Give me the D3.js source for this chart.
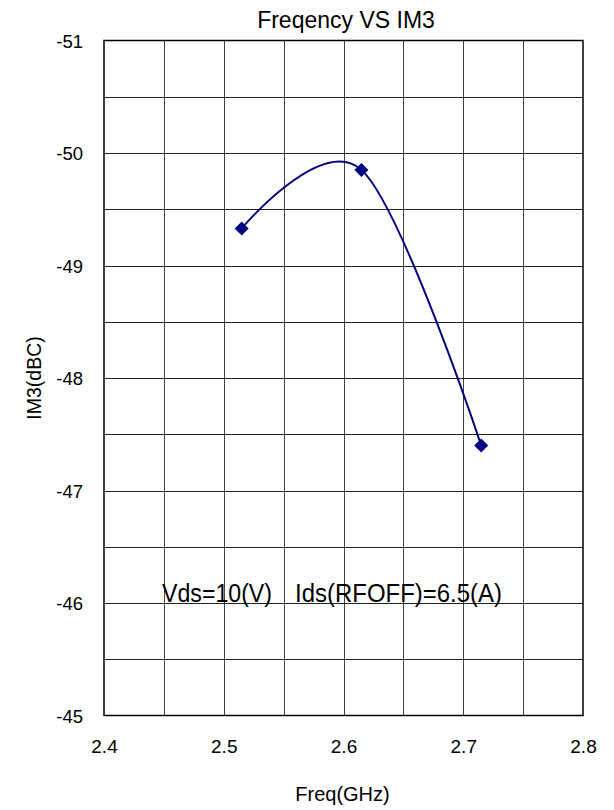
<!DOCTYPE html>
<html>
<head>
<meta charset="utf-8">
<script src="https://cdn.jsdelivr.net/npm/d3@7"></script>
<style>
  body { margin: 0; background: #fff; }
  text { font-family: "Liberation Sans", Arial, sans-serif; fill: #000; }
</style>
</head>
<body>
<svg id="chart" width="614" height="810"></svg>
<script>
// data
const freq = [2.515, 2.615, 2.715];
const im3 = [-49.33, -49.85, -47.40];
const xTicks = [2.4, 2.5, 2.6, 2.7, 2.8];
const yTicks = [-51, -50, -49, -48, -47, -46, -45];
const xGrid = [2.45, 2.5, 2.55, 2.6, 2.65, 2.7, 2.75];
const yGrid = [-50.5, -50, -49.5, -49, -48.5, -48, -47.5, -47, -46.5, -46, -45.5];

const margin = { left: 104, right: 583, top: 40.5, bottom: 715.5 };
const svg = d3.select("#chart");

const x = d3.scaleLinear().domain([2.4, 2.8]).range([margin.left, margin.right]);
const y = d3.scaleLinear().domain([-51, -45]).range([margin.top, margin.bottom]);
const w = margin.right - margin.left;
const h = margin.bottom - margin.top;

// grid lines
let grid = svg.append("g").attr("class", "grid");
grid.selectAll(".vgrid").data(xGrid).enter()
    .append("line")
    .attr("x1", d => Math.round(x(d)) + 0.5)
    .attr("x2", d => Math.round(x(d)) + 0.5)
    .attr("y1", margin.top)
    .attr("y2", margin.bottom)
    .attr("stroke", "#444")
    .attr("stroke-width", 1);
grid.selectAll(".hgrid").data(yGrid).enter()
    .append("line")
    .attr("x1", margin.left)
    .attr("x2", margin.right)
    .attr("y1", d => Math.round(y(d)) + 0.5)
    .attr("y2", d => Math.round(y(d)) + 0.5)
    .attr("stroke", "#222")
    .attr("stroke-width", 1);

// plot border
svg.append("rect")
    .attr("x", margin.left)
    .attr("y", margin.top)
    .attr("width", w)
    .attr("height", h)
    .attr("fill", "none")
    .attr("stroke", "#000")
    .attr("stroke-width", 1.5);

// axes (labels only)
let leftAxis = d3.axisLeft(y).tickValues(yTicks).tickSize(0).tickPadding(21)
    .tickFormat(d => d3.format("d")(d).replace("−", "-"));
let la = svg.append("g").attr("transform", "translate(" + margin.left + ",0)").call(leftAxis);
la.select(".domain").remove();
la.selectAll("text")
    .attr("dy", "0.37em")
    .style("font-size", "18.5px")
    .style("font-family", "Liberation Sans, Arial, sans-serif");

let bottomAxis = d3.axisBottom(x).tickValues(xTicks).tickSize(0).tickPadding(24)
    .tickFormat(d3.format(".1f"));
let ba = svg.append("g").attr("transform", "translate(0," + margin.bottom + ")").call(bottomAxis);
ba.select(".domain").remove();
ba.selectAll("text")
    .style("font-size", "19px")
    .style("font-family", "Liberation Sans, Arial, sans-serif");

// series line
const line = d3.line()
    .x((d, i) => x(freq[i]))
    .y(d => y(d))
    .curve(d3.curveCardinal.tension(0));

svg.append("path")
    .datum(im3)
    .attr("d", line)
    .attr("fill", "none")
    .attr("stroke", "#000080")
    .attr("stroke-width", 2);

svg.selectAll(".marker").data(im3).enter()
    .append("path")
    .attr("class", "marker")
    .attr("d", "M0,-7L7,0L0,7L-7,0Z")
    .attr("transform", (d, i) => "translate(" + x(freq[i]) + "," + y(d) + ")")
    .attr("fill", "#000080");

// titles
svg.append("text")
    .attr("x", 346)
    .attr("y", 28)
    .attr("text-anchor", "middle")
    .style("font-size", "23px")
    .text("Freqency VS IM3");

svg.append("text")
    .attr("x", 342.5)
    .attr("y", 801)
    .attr("text-anchor", "middle")
    .style("font-size", "20px")
    .text("Freq(GHz)");

svg.append("text")
    .attr("transform", "translate(41,378) rotate(-90)")
    .attr("text-anchor", "middle")
    .style("font-size", "19.5px")
    .text("IM3(dBC)");

// condition note
svg.append("text")
    .attr("x", 162)
    .attr("y", 602)
    .attr("textLength", 110)
    .attr("lengthAdjust", "spacingAndGlyphs")
    .style("font-size", "25px")
    .text("Vds=10(V)");
svg.append("text")
    .attr("x", 295)
    .attr("y", 602)
    .attr("textLength", 207)
    .attr("lengthAdjust", "spacingAndGlyphs")
    .style("font-size", "25px")
    .text("Ids(RFOFF)=6.5(A)");
</script>
</body>
</html>
